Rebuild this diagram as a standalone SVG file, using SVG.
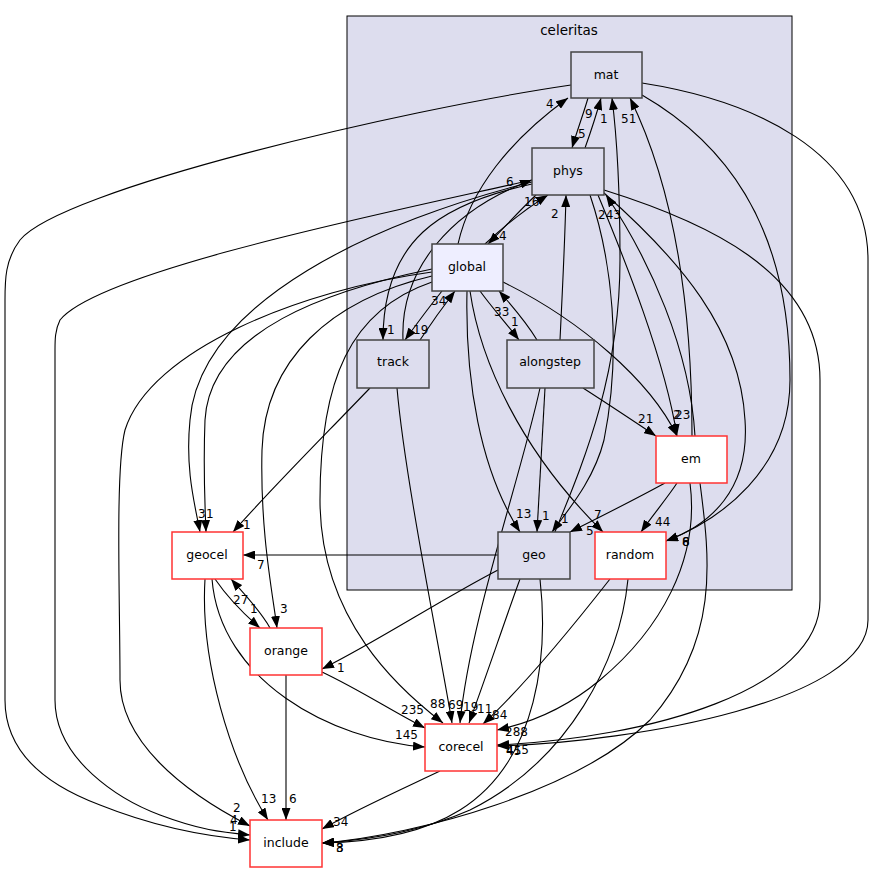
<svg xmlns="http://www.w3.org/2000/svg" width="875" height="873" viewBox="0 0 875 873">
<style>
  .lbl { font-family: "DejaVu Sans", "Liberation Sans", sans-serif; font-size: 12px; fill: #000; }
  .nt { font-family: "DejaVu Sans", "Liberation Sans", sans-serif; font-size: 12.5px; fill: #000; text-anchor: middle; }
  .ct { font-family: "DejaVu Sans", "Liberation Sans", sans-serif; font-size: 13.5px; fill: #000; text-anchor: middle; }
  .e { fill: none; stroke: #000; stroke-width: 1.1; marker-end: url(#ah); }
  .inner { fill: #ddddee; stroke: #444; stroke-width: 1.5; }
  .glob { fill: #eeeeff; stroke: #444; stroke-width: 1.5; }
  .ext { fill: #ffffff; stroke: #ff3333; stroke-width: 1.5; }
</style>
<defs>
  <marker id="ah" viewBox="0 0 12 9" refX="12" refY="4.5" markerWidth="12" markerHeight="9" markerUnits="userSpaceOnUse" orient="auto">
    <path d="M0,0 L12,4.5 L0,9 z" fill="#000"/>
  </marker>
</defs>
<rect width="875" height="873" fill="#ffffff"/>
<g id="cluster-celeritas">
  <rect x="347" y="16" width="445" height="574" fill="#ddddee" stroke="#000" stroke-width="1"/>
  <text class="ct" x="569" y="35">celeritas</text>
</g>
<g id="connectors">
  <path class="e" d="M588,98 C584,112 578,128 572,148"/>
  <text class="lbl" x="578" y="138">5</text>
  <path class="e" d="M585,148 C590,134 596,116 601,98"/>
  <text class="lbl" x="585" y="118">9</text>
  <path class="e" d="M555,532 C580,470 620,380 620,260 C620,180 616,130 612,98"/>
  <text class="lbl" x="600" y="123">1</text>
  <path class="e" d="M692,436 C692,330 680,200 630,98"/>
  <text class="lbl" x="621" y="123">51</text>
  <path class="e" d="M458,244 C470,190 510,140 568,98"/>
  <text class="lbl" x="546" y="108">4</text>
  <path class="e" d="M536,195 C520,210 504,228 488,244"/>
  <text class="lbl" x="499" y="240">4</text>
  <path class="e" d="M485,244 C502,228 524,210 548,195"/>
  <text class="lbl" x="524" y="206">16</text>
  <path class="e" d="M560,340 C562,300 565,240 566,195"/>
  <text class="lbl" x="551" y="218">2</text>
  <path class="e" d="M695,436 C690,350 650,260 606,195"/>
  <text class="lbl" x="598" y="219">243</text>
  <path class="e" d="M403,340 C400,270 450,210 532,180"/>
  <text class="lbl" x="506" y="186">6</text>
  <path class="e" d="M532,184 C440,204 383,240 383,340"/>
  <text class="lbl" x="387" y="334">1</text>
  <path class="e" d="M442,291 C430,306 418,322 405,340"/>
  <text class="lbl" x="413" y="334">19</text>
  <path class="e" d="M420,340 C430,325 442,308 455,291"/>
  <text class="lbl" x="431" y="305">34</text>
  <path class="e" d="M480,291 C490,305 505,322 519,340"/>
  <text class="lbl" x="511" y="326">1</text>
  <path class="e" d="M537,340 C528,325 514,308 499,291"/>
  <text class="lbl" x="494" y="316">33</text>
  <path class="e" d="M598,195 C625,260 665,360 677,436"/>
  <text class="lbl" x="673" y="419">2</text>
  <path class="e" d="M503,282 C580,320 650,380 677,436"/>
  <text class="lbl" x="675" y="419">23</text>
  <path class="e" d="M583,388 C608,404 632,420 656,436"/>
  <text class="lbl" x="638" y="423">21</text>
  <path class="e" d="M470,291 C480,360 520,450 603,532"/>
  <text class="lbl" x="594" y="519">7</text>
  <path class="e" d="M467,291 C465,380 480,470 520,532"/>
  <text class="lbl" x="516" y="518">13</text>
  <path class="e" d="M545,388 C543,430 540,480 537,532"/>
  <text class="lbl" x="542" y="520">1</text>
  <path class="e" d="M590,195 C612,260 622,350 604,440 C594,480 568,510 552,532"/>
  <text class="lbl" x="561" y="523">1</text>
  <path class="e" d="M665,483 C634,500 602,516 570,532"/>
  <text class="lbl" x="586" y="535">5</text>
  <path class="e" d="M677,483 C668,497 652,516 641,532"/>
  <text class="lbl" x="655" y="526">44</text>
  <path class="e" d="M604,193 C680,260 740,330 745,420 C750,490 710,525 666,541"/>
  <text class="lbl" x="682" y="546">8</text>
  <path class="e" d="M642,95 C720,140 790,220 790,380 C790,470 720,520 666,541"/>
  <text class="lbl" x="682" y="546">6</text>
  <path class="e" d="M642,83 C750,100 868,150 868,260 L868,620 C868,700 640,742 497,746"/>
  <text class="lbl" x="506" y="755">45</text>
  <path class="e" d="M604,190 C700,220 820,270 820,380 L820,600 C820,690 650,738 497,745"/>
  <text class="lbl" x="506" y="754">415</text>
  <path class="e" d="M690,483 C700,560 660,630 600,680 C570,705 535,722 497,730"/>
  <text class="lbl" x="505" y="736">288</text>
  <path class="e" d="M571,85 C400,110 60,190 20,240 C5,260 5,280 5,300 L5,700 C5,760 60,790 100,805 C150,825 200,836 250,840"/>
  <text class="lbl" x="229" y="831">1</text>
  <path class="e" d="M532,180 C400,210 100,270 60,320 C55,330 55,340 55,350 L55,700 C55,760 120,800 160,815 C200,830 220,832 250,835"/>
  <text class="lbl" x="230" y="824">4</text>
  <path class="e" d="M432,272 C300,290 150,350 125,430 C115,470 120,600 120,680 C120,740 180,790 250,826"/>
  <text class="lbl" x="233" y="812">2</text>
  <path class="e" d="M205,579 C200,660 230,760 268,820"/>
  <text class="lbl" x="261" y="803">13</text>
  <path class="e" d="M286,675 L286,820"/>
  <text class="lbl" x="289" y="803">6</text>
  <path class="e" d="M440,771 C400,790 360,808 322,829"/>
  <text class="lbl" x="333" y="826">34</text>
  <path class="e" d="M700,483 C710,560 720,640 650,720 C580,790 420,835 322,843"/>
  <path class="e" d="M628,579 C620,660 570,760 470,810 C420,832 370,840 322,843"/>
  <path class="e" d="M540,579 C548,650 540,760 460,810 C420,835 370,842 322,843"/>
  <text class="lbl" x="336" y="852">3</text>
  <text class="lbl" x="336" y="852">8</text>
  <path class="e" d="M532,182 C380,220 200,300 190,420 C185,470 195,505 200,532"/>
  <text class="lbl" x="198" y="518">3</text>
  <path class="e" d="M432,269 C330,290 210,330 205,420 C203,470 205,505 206,532"/>
  <text class="lbl" x="206" y="518">1</text>
  <path class="e" d="M370,388 C320,440 270,490 233,532"/>
  <text class="lbl" x="243" y="529">1</text>
  <path class="e" d="M498,555 L243,555"/>
  <text class="lbl" x="257" y="569">7</text>
  <path class="e" d="M270,628 C260,610 245,595 231,579"/>
  <text class="lbl" x="233" y="604">27</text>
  <path class="e" d="M215,579 C228,598 245,615 260,628"/>
  <text class="lbl" x="250" y="613">1</text>
  <path class="e" d="M432,276 C330,300 265,360 262,450 C260,530 272,590 277,628"/>
  <text class="lbl" x="280" y="613">3</text>
  <path class="e" d="M498,570 C440,600 380,640 322,669"/>
  <text class="lbl" x="337" y="672">1</text>
  <path class="e" d="M322,672 C360,690 390,710 425,728"/>
  <text class="lbl" x="401" y="714">235</text>
  <path class="e" d="M212,579 C220,680 330,740 425,747"/>
  <text class="lbl" x="395" y="739">145</text>
  <path class="e" d="M432,282 C350,310 320,380 320,500 C320,620 400,690 443,723"/>
  <text class="lbl" x="430" y="708">88</text>
  <path class="e" d="M397,388 C405,480 440,650 452,723"/>
  <text class="lbl" x="448" y="709">69</text>
  <path class="e" d="M540,388 C520,480 470,620 460,723"/>
  <text class="lbl" x="463" y="711">19</text>
  <path class="e" d="M520,579 C505,620 485,680 469,723"/>
  <text class="lbl" x="477" y="713">11</text>
  <path class="e" d="M610,579 C570,630 520,690 483,724"/>
  <text class="lbl" x="492" y="719">84</text>
</g>
<g id="node-mat"><rect class="inner" x="571" y="52" width="71" height="46"/><text class="nt" x="606" y="79">mat</text></g>
<g id="node-phys"><rect class="inner" x="532" y="148" width="72" height="47"/><text class="nt" x="568" y="175">phys</text></g>
<g id="node-global"><rect class="glob" x="432" y="244" width="71" height="47"/><text class="nt" x="467" y="271">global</text></g>
<g id="node-track"><rect class="inner" x="357" y="340" width="72" height="48"/><text class="nt" x="393" y="366">track</text></g>
<g id="node-alongstep"><rect class="inner" x="507" y="340" width="87" height="48"/><text class="nt" x="550" y="366">alongstep</text></g>
<g id="node-em"><rect class="ext" x="656" y="436" width="71" height="47"/><text class="nt" x="691" y="463">em</text></g>
<g id="node-geo"><rect class="inner" x="498" y="532" width="72" height="47"/><text class="nt" x="534" y="559">geo</text></g>
<g id="node-random"><rect class="ext" x="595" y="532" width="71" height="47"/><text class="nt" x="630" y="559">random</text></g>
<g id="node-geocel"><rect class="ext" x="172" y="532" width="71" height="47"/><text class="nt" x="207" y="559">geocel</text></g>
<g id="node-orange"><rect class="ext" x="250" y="628" width="72" height="47"/><text class="nt" x="286" y="655">orange</text></g>
<g id="node-corecel"><rect class="ext" x="425" y="724" width="72" height="47"/><text class="nt" x="461" y="751">corecel</text></g>
<g id="node-include"><rect class="ext" x="250" y="820" width="72" height="47"/><text class="nt" x="286" y="847">include</text></g>
</svg>
